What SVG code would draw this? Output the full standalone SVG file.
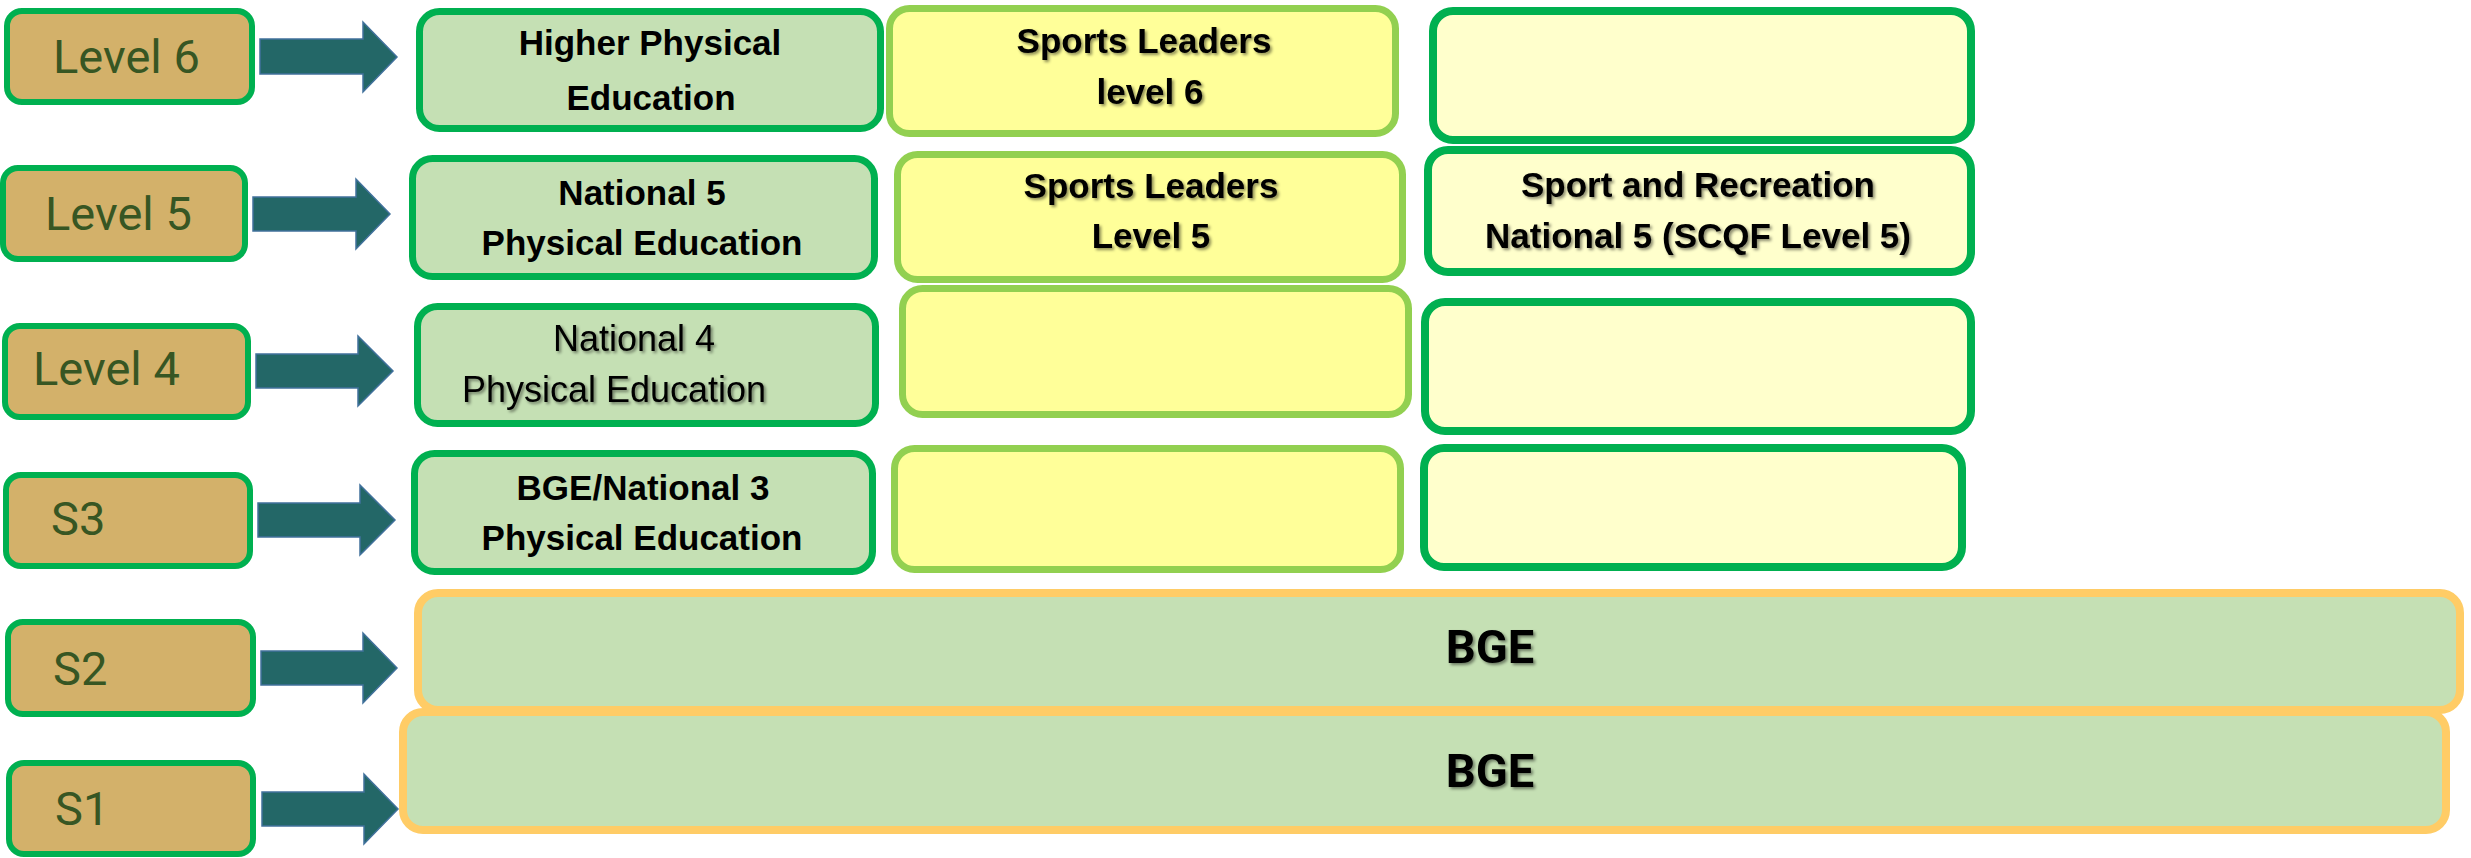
<svg xmlns="http://www.w3.org/2000/svg" width="2471" height="858" viewBox="0 0 2471 858">
<defs>
<filter id="sh" x="-10%" y="-30%" width="120%" height="160%">
<feDropShadow dx="2" dy="2" stdDeviation="1.5" flood-color="#000" flood-opacity="0.45"/>
</filter>
<style>
.lbl rect{fill:#D3B16A;stroke:#00B050;stroke-width:6}
.lbl text{font-family:Roboto,"Liberation Sans",sans-serif;font-size:47px;fill:#375623}
.c1 rect{fill:#C5E0B4;stroke:#00B050;stroke-width:7}
.c2 rect{fill:#FFFF99;stroke:#92D050;stroke-width:7}
.c3 rect{fill:#FFFFCC;stroke:#00B050;stroke-width:8}
.bge rect{fill:#C5E0B4;stroke:#FFCC66;stroke-width:8}
.t{font-family:"Liberation Sans",Arial,sans-serif;font-size:35px;font-weight:bold;fill:#000;text-anchor:middle}
.tr{font-family:"Liberation Sans",Arial,sans-serif;font-size:36px;fill:#000;text-anchor:middle}
.tb{font-family:Roboto,"Liberation Sans",sans-serif;font-size:47px;font-weight:bold;fill:#000;text-anchor:middle}
.s{filter:url(#sh)}
.arr polygon{fill:#236767;stroke:#41719C;stroke-width:1.5}
</style>
</defs>
<rect width="2471" height="858" fill="#fff"/>

<g id="label-level6" class="lbl"><rect x="7" y="11" width="245" height="91" rx="15"/><text x="53" y="73">Level 6</text></g>
<g id="label-level5" class="lbl"><rect x="3" y="168" width="242" height="91" rx="15"/><text x="45" y="230">Level 5</text></g>
<g id="label-level4" class="lbl"><rect x="5" y="326" width="243" height="91" rx="15"/><text x="33" y="385">Level 4</text></g>
<g id="label-s3" class="lbl"><rect x="6" y="475" width="244" height="91" rx="15"/><text x="51" y="535">S3</text></g>
<g id="label-s2" class="lbl"><rect x="8" y="622" width="245" height="92" rx="15"/><text x="53" y="685">S2</text></g>
<g id="label-s1" class="lbl"><rect x="9" y="763" width="244" height="91" rx="15"/><text x="55" y="825">S1</text></g>

<g id="connectors" class="arr">
<polygon points="260,39 363,39 363,22 397,57 363,92 363,74 260,74"/>
<polygon points="253,197 356,197 356,179 390,214 356,249 356,231 253,231"/>
<polygon points="256,354 358,354 358,336 393,371 358,406 358,388 256,388"/>
<polygon points="258,503 360,503 360,485 395,520 360,555 360,537 258,537"/>
<polygon points="261,651 363,651 363,633 397,668 363,703 363,685 261,685"/>
<polygon points="262,792 364,792 364,774 398,809 364,844 364,826 262,826"/>
</g>

<g id="higher-pe" class="c1"><rect x="419.5" y="11.5" width="461" height="117" rx="20"/>
<text class="t" x="650" y="55">Higher Physical</text><text class="t" x="651" y="110">Education</text></g>
<g id="nat5-pe" class="c1"><rect x="412.5" y="158.5" width="462" height="118" rx="20"/>
<text class="t" x="642" y="205">National 5</text><text class="t" x="642" y="255">Physical Education</text></g>
<g id="nat4-pe" class="c1"><rect x="417.5" y="306.5" width="458" height="117" rx="20"/>
<text class="tr s" x="634" y="351">National 4</text><text class="tr s" x="614" y="402">Physical Education</text></g>
<g id="nat3-pe" class="c1"><rect x="414.5" y="453.5" width="458" height="118" rx="20"/>
<text class="t" x="643" y="500">BGE/National 3</text><text class="t" x="642" y="550">Physical Education</text></g>

<g id="sports-leaders-6" class="c2"><rect x="889.5" y="8.5" width="506" height="125" rx="20"/>
<text class="t s" x="1144" y="53">Sports Leaders</text><text class="t s" x="1150" y="104">level 6</text></g>
<g id="sports-leaders-5" class="c2"><rect x="897.5" y="154.5" width="505" height="125" rx="20"/>
<text class="t s" x="1151" y="198">Sports Leaders</text><text class="t s" x="1151" y="248">Level 5</text></g>
<g id="col2-level4" class="c2"><rect x="902.5" y="288.5" width="506" height="126" rx="20"/></g>
<g id="col2-s3" class="c2"><rect x="894.5" y="448.5" width="506" height="121" rx="20"/></g>

<g id="col3-level6" class="c3"><rect x="1433" y="11" width="538" height="129" rx="20"/></g>
<g id="sport-recreation" class="c3"><rect x="1428" y="150" width="543" height="122" rx="20"/>
<text class="t s" x="1698" y="197">Sport and Recreation</text><text class="t s" x="1698" y="248">National 5 (SCQF Level 5)</text></g>
<g id="col3-level4" class="c3"><rect x="1425" y="302" width="546" height="129" rx="20"/></g>
<g id="col3-s3" class="c3"><rect x="1424" y="448" width="538" height="119" rx="20"/></g>

<g id="bge-s2" class="bge"><rect x="418" y="593" width="2042" height="117" rx="20"/>
<text class="tb s" x="1490" y="663">BGE</text></g>
<g id="bge-s1" class="bge"><rect x="403" y="712" width="2043" height="118" rx="20"/>
<text class="tb s" x="1490" y="787">BGE</text></g>
</svg>
